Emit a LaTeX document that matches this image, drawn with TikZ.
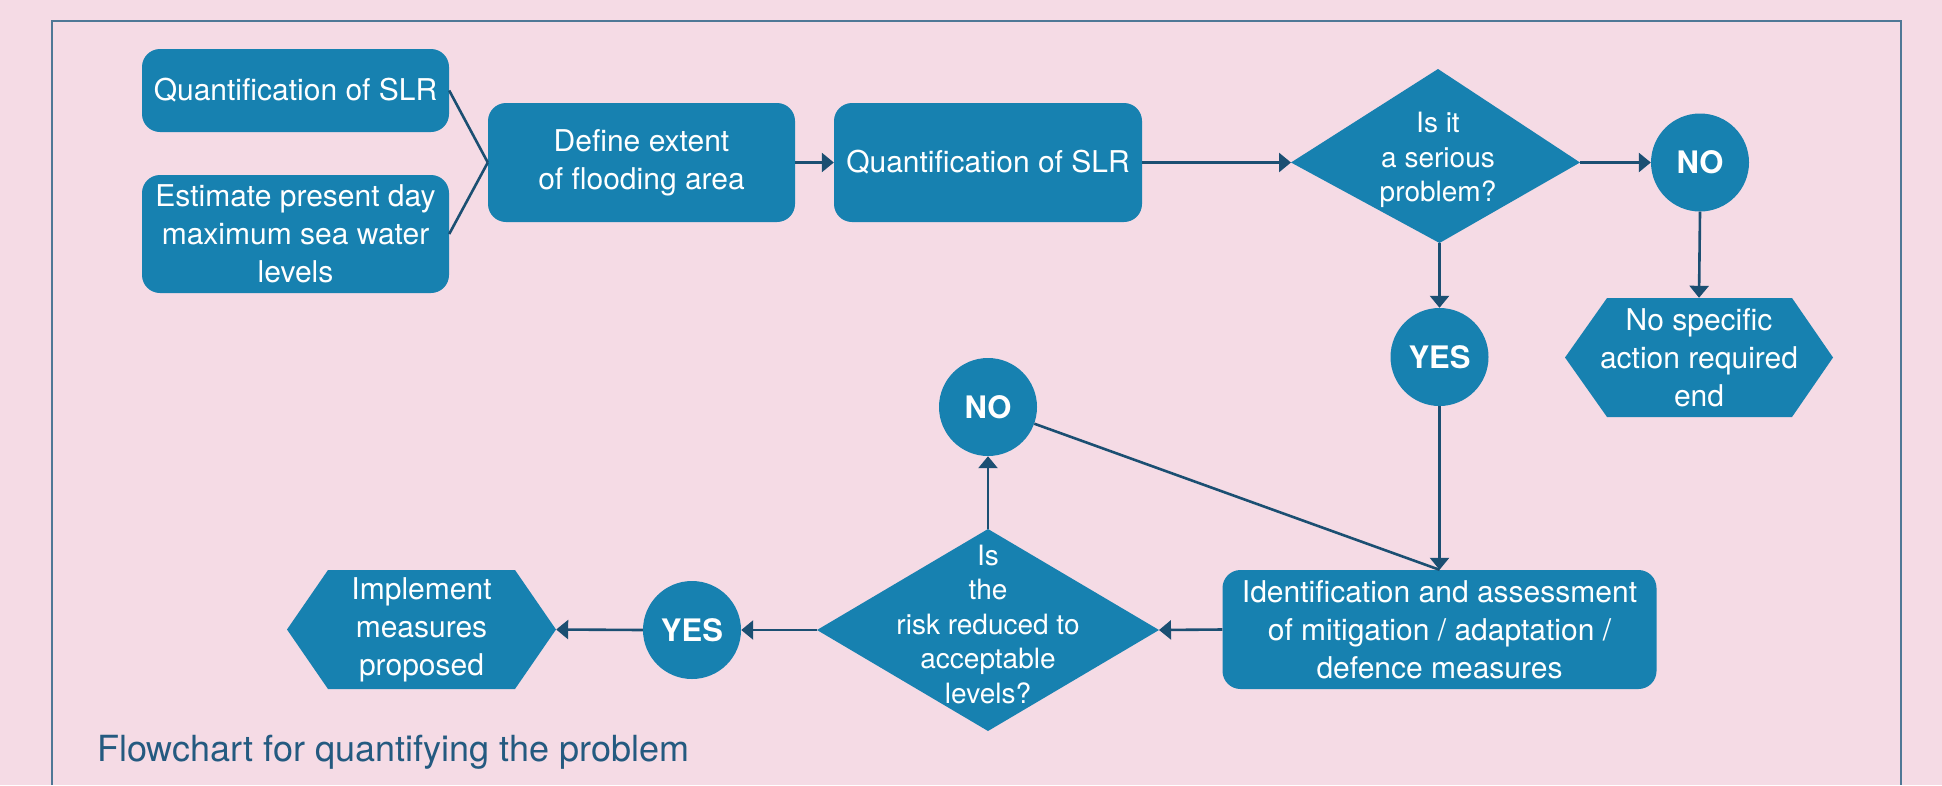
\documentclass[tikz,border=0pt]{standalone}
\usepackage{fontspec}
\setmainfont{TeX Gyre Heros}
\usetikzlibrary{arrows.meta,calc,shapes.geometric}
\definecolor{bg}{HTML}{F5DBE5}
\definecolor{boxc}{HTML}{1781B0}
\definecolor{arr}{HTML}{1B4F72}
\definecolor{frm}{HTML}{4F7896}
\definecolor{capc}{HTML}{245A80}
\begin{document}
\begin{tikzpicture}[x=1pt,y=-1pt,
  box/.style={fill=boxc, rounded corners=18pt, text=white, align=center,
    font=\fontsize{30}{38}\selectfont, inner sep=0pt},
  txt/.style={text=white, align=center, font=\fontsize{30}{38}\selectfont, inner sep=0pt},
  dtxt/.style={text=white, align=center, font=\fontsize{28}{34.5}\selectfont, inner sep=0pt},
  yn/.style={circle, fill=boxc, minimum size=98pt, inner sep=0pt, text=white,
    font=\bfseries\fontsize{31}{36}\selectfont},
  shapefill/.style={fill=boxc},
  conn/.style={draw=arr, line width=2.6pt, -{Triangle[length=12pt,width=19pt]}},
  plain/.style={draw=arr, line width=2.6pt}
]
\useasboundingbox (0,0) rectangle (1942,785);
\fill[bg] (0,0) rectangle (1942,785);
\draw[frm, line width=2pt] (52,785) -- (52,21) -- (1901,21) -- (1901,785);

% rounded boxes
\node[box, minimum width=307pt, minimum height=83pt] (b1) at (295.5,90.5) {Quantification of SLR};
\node[box, minimum width=307pt, minimum height=118pt] (b2) at (295.5,234) {Estimate present day\\maximum sea water\\levels};
\node[box, minimum width=307pt, minimum height=119pt] (def) at (641.5,162.5) {Define extent\\of flooding area};
\node[box, minimum width=308pt, minimum height=119pt] (q2) at (988,162.5) {Quantification of SLR};
\node[box, minimum width=434pt, minimum height=119pt] (ident) at (1439.5,629.5) {Identification and assessment\\of mitigation / adaptation /\\defence measures};

% diamond 1
\coordinate (d1w) at (1291,162.5);
\coordinate (d1e) at (1580,162.5);
\coordinate (d1n) at (1438,69);
\coordinate (d1s) at (1439.5,243);
\fill[shapefill] (d1w) -- (d1n) -- (d1e) -- (d1s) -- cycle;
\node[dtxt] (d1) at (1438,160) {Is it\\a serious\\problem?};

% diamond 2
\coordinate (d2w) at (817,630);
\coordinate (d2e) at (1159,630);
\coordinate (d2n) at (988,529);
\coordinate (d2s) at (988,731);
\fill[shapefill] (d2w) -- (d2n) -- (d2e) -- (d2s) -- cycle;
\node[dtxt] (d2) at (988,624) {Is\\the\\risk reduced to\\acceptable\\levels?};

% hexagons
\fill[shapefill] (1565,357.5) -- (1607,298) -- (1792,298) -- (1833,357.5) -- (1792,417) -- (1607,417) -- cycle;
\node[txt, minimum width=268pt, minimum height=119pt] (hex1) at (1699,357.5) {No specific\\action required\\end};
\fill[shapefill] (287,629.5) -- (328,570) -- (515,570) -- (556,629.5) -- (515,689) -- (328,689) -- cycle;
\node[txt, minimum width=269pt, minimum height=119pt] (hex2) at (421.5,629.5) {Implement\\measures\\proposed};

% yes / no circles
\node[yn] (no1) at (1700,162.5) {NO};
\node[yn] (yes1) at (1439.5,357) {YES};
\node[yn] (no2) at (988,407) {NO};
\node[yn] (yes2) at (692,630) {YES};

% caption
\node[anchor=base west, inner sep=0pt, text=capc, font=\fontsize{36}{40}\selectfont] (cap) at (97,761) {Flowchart for quantifying the problem};

% connectors
\draw[plain] (b1.east) -- (def.west);
\draw[plain] (b2.east) -- (def.west);
\draw[conn] (def.east) -- (q2.west);
\draw[conn] (q2.east) -- (d1w);
\draw[conn] (d1e) -- (no1.west);
\draw[conn] (no1.south) -- (hex1.north);
\draw[conn] (d1s) -- (yes1.north);
\draw[conn] (yes1.south) -- (ident.north);
\draw[plain] (no2) -- (ident.north);
\draw[conn] (ident.west) -- (d2e);
\draw[conn] (d2n) -- (no2.south);
\draw[conn] (d2w) -- (yes2.east);
\draw[conn] (yes2.west) -- (hex2.east);
\end{tikzpicture}
\end{document}
